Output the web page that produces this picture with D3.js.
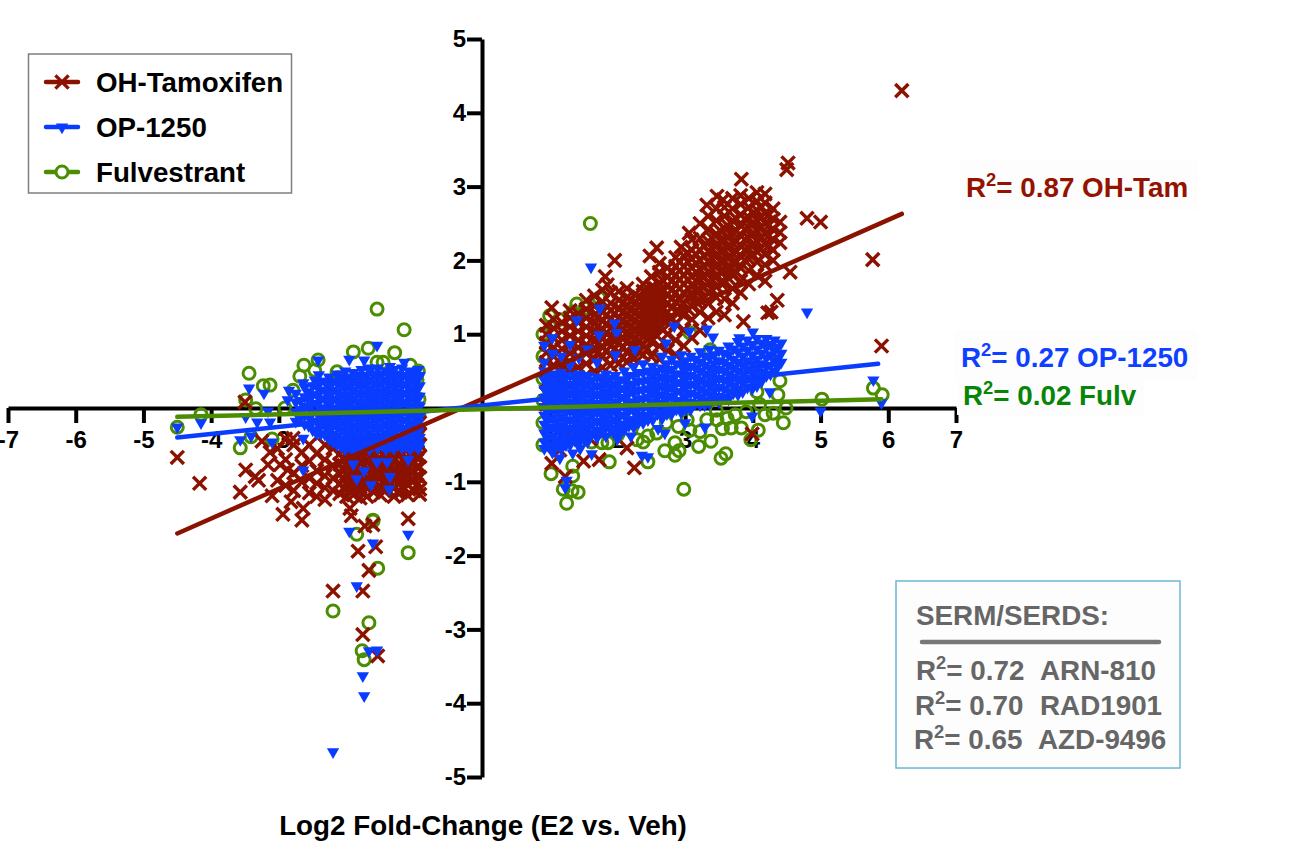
<!DOCTYPE html>
<html>
<head>
<meta charset="utf-8">
<script src="https://cdn.jsdelivr.net/npm/d3@7"></script>
<style>
    html, body { margin: 0; padding: 0; background: #fff; overflow: hidden; }
    svg { display: block; font-family: "Liberation Sans", Arial, sans-serif; font-weight: bold; }
    .axis path, .axis line { stroke: #000; stroke-width: 4px; }
    .axis text { font-size: 24px; font-weight: bold; fill: #000; font-family: "Liberation Sans", Arial, sans-serif; }
</style>
</head>
<body>
<div id="chart"></div>
<script>
// values, columns are [log2 FC E2, [log2 FC drug, ...]]
const tamoxifenLeft = [
    [-3.02, [-0.55, -0.98]], [-2.9, [-0.42, -0.7, -1.05]], [-2.78, [-0.5, -0.88, -1.12]],
    [-2.66, [-0.6, -0.78, -1.0]], [-2.55, [-0.5, -0.72, -0.95, -1.15]], [-2.44, [-0.62, -0.85, -1.02, -1.2]],
    [-2.32, [-0.5, -0.7, -0.92, -1.08, -1.24]], [-2.2, [-0.55, -0.78, -0.95, -1.12]],
    [-2.1, [-0.48, -0.62, -0.76, -0.9, -1.02, -1.16]], [-2.04, [-0.56, -0.7, -0.84, -0.97, -1.1]],
    [-2.0, [-0.5, -0.64, -0.78, -0.9, -1.04, -1.2]], [-1.95, [-0.57, -0.72, -0.85, -0.98, -1.12]],
    [-1.9, [-0.46, -0.58, -0.7, -0.82, -0.94, -1.08, -1.18]], [-1.85, [-0.52, -0.65, -0.78, -0.9, -1.02]],
    [-1.8, [-0.5, -0.62, -0.74, -0.86, -0.98, -1.12, -1.22]], [-1.75, [-0.56, -0.68, -0.8, -0.92, -1.04, -1.15]],
    [-1.7, [-0.46, -0.58, -0.7, -0.84, -0.96, -1.08, -1.2]], [-1.65, [-0.54, -0.66, -0.78, -0.9, -1.02]],
    [-1.6, [-0.5, -0.62, -0.76, -0.88, -1.0, -1.14]], [-1.55, [-0.56, -0.7, -0.82, -0.94, -1.08]],
    [-1.5, [-0.44, -0.56, -0.68, -0.8, -0.92, -1.06, -1.18]], [-1.45, [-0.52, -0.64, -0.76, -0.88, -1.0, -1.12]],
    [-1.4, [-0.5, -0.62, -0.74, -0.86, -0.98, -1.1]], [-1.35, [-0.56, -0.68, -0.8, -0.92, -1.04]],
    [-1.3, [-0.46, -0.58, -0.7, -0.84, -0.96, -1.08, -1.2]], [-1.25, [-0.52, -0.64, -0.78, -0.9, -1.02, -1.14]],
    [-1.2, [-0.5, -0.62, -0.76, -0.88, -1.0, -1.14]], [-1.15, [-0.56, -0.7, -0.82, -0.94, -1.08]],
    [-1.1, [-0.44, -0.56, -0.68, -0.8, -0.92, -1.04, -1.18]], [-1.05, [-0.5, -0.62, -0.74, -0.86, -0.98]],
    [-1.0, [-0.5, -0.62, -0.74, -0.86, -0.98, -1.12]], [-0.96, [-0.56, -0.68, -0.8, -0.92, -1.04]],
    [-0.92, [-0.2, -0.36, -0.5, -0.66, -0.8, -0.94, -1.1, -1.17]]
];
const tamoxifenRight = [
    [0.95, [0.05, 0.2, 0.35, 0.5, 0.62, 0.75, 0.88, 1.0, 1.12]],
    [1.06, [0.15, 0.3, 0.45, 0.58, 0.7, 0.82, 0.95, 1.08, 1.2]],
    [1.18, [0.25, 0.4, 0.55, 0.68, 0.8, 0.92, 1.04, 1.16]],
    [1.3, [0.3, 0.48, 0.62, 0.74, 0.86, 0.98, 1.1, 1.22, 1.32]],
    [1.42, [0.4, 0.55, 0.7, 0.82, 0.92, 1.04, 1.16, 1.28]],
    [1.54, [0.45, 0.6, 0.74, 0.86, 0.98, 1.1, 1.22, 1.34, 1.46]],
    [1.66, [0.5, 0.66, 0.78, 0.9, 1.02, 1.14, 1.26, 1.38, 1.52]],
    [1.78, [0.55, 0.7, 0.82, 0.94, 1.06, 1.18, 1.3, 1.44, 1.6]],
    [1.9, [0.58, 0.72, 0.84, 0.96, 1.08, 1.2, 1.32, 1.42, 1.56]],
    [2.02, [0.6, 0.74, 0.88, 1.0, 1.1, 1.22, 1.34, 1.46, 1.58]],
    [2.14, [0.62, 0.76, 0.9, 1.02, 1.14, 1.26, 1.38, 1.5, 1.62]],
    [2.26, [0.68, 0.82, 0.94, 1.06, 1.18, 1.3, 1.42, 1.54]],
    [2.38, [0.72, 0.86, 0.98, 1.1, 1.22, 1.34, 1.46, 1.58, 1.68]],
    [2.5, [0.7, 0.9, 1.04, 1.16, 1.28, 1.4, 1.52, 1.64, 1.78]],
    [2.62, [0.66, 0.84, 1.1, 1.22, 1.34, 1.46, 1.58, 1.7, 1.84, 1.96]],
    [2.74, [0.78, 1.0, 1.18, 1.3, 1.42, 1.54, 1.66, 1.78, 1.9]],
    [2.86, [0.72, 0.92, 1.14, 1.3, 1.44, 1.56, 1.68, 1.8, 1.92, 2.04]],
    [2.98, [0.84, 1.06, 1.26, 1.42, 1.56, 1.68, 1.8, 1.92, 2.06]],
    [3.1, [0.95, 1.2, 1.38, 1.52, 1.66, 1.78, 1.9, 2.02, 2.14, 2.28]],
    [3.22, [1.05, 1.3, 1.46, 1.6, 1.74, 1.88, 2.0, 2.14, 2.3, 2.5]],
    [3.34, [1.22, 1.42, 1.56, 1.7, 1.84, 1.98, 2.12, 2.26, 2.42, 2.6]],
    [3.46, [1.3, 1.5, 1.64, 1.78, 1.92, 2.06, 2.2, 2.36, 2.54, 2.7]],
    [3.58, [1.26, 1.48, 1.7, 1.86, 2.0, 2.14, 2.28, 2.44, 2.6, 2.72]],
    [3.7, [1.42, 1.62, 1.8, 1.96, 2.1, 2.24, 2.38, 2.54, 2.7, 2.84]],
    [3.82, [1.56, 1.72, 1.9, 2.06, 2.2, 2.34, 2.48, 2.62, 2.76, 2.88]],
    [3.94, [1.68, 1.86, 2.02, 2.16, 2.3, 2.44, 2.58, 2.72, 2.84]],
    [4.06, [1.8, 1.98, 2.12, 2.26, 2.4, 2.54, 2.68, 2.8, 2.92]],
    [4.18, [1.72, 1.94, 2.08, 2.22, 2.36, 2.5, 2.64, 2.78, 2.9]],
    [4.3, [2.0, 2.14, 2.28, 2.42, 2.56, 2.7]],
    [4.4, [2.24, 2.38, 2.52]]
];
// the thick middle of the upper right cloud
const tamoxifenRightDense = [
    [1.72, [0.76, 0.88, 1.0, 1.12, 1.24]], [1.84, [0.78, 0.9, 1.02, 1.14, 1.26]],
    [1.96, [0.66, 0.8, 0.94, 1.06, 1.16, 1.28]], [2.08, [0.68, 0.82, 0.94, 1.06, 1.18, 1.3, 1.42]],
    [2.2, [0.7, 0.84, 0.98, 1.1, 1.22, 1.34, 1.46]], [2.32, [0.76, 0.9, 1.02, 1.14, 1.26, 1.38, 1.5]],
    [2.44, [0.8, 0.94, 1.08, 1.2, 1.32, 1.44, 1.56]], [2.56, [1.0, 1.14, 1.26, 1.38, 1.5, 1.62]],
    [2.68, [1.06, 1.2, 1.34, 1.46, 1.58, 1.72]], [2.8, [1.22, 1.36, 1.48, 1.6, 1.72, 1.84]],
    [2.92, [1.3, 1.46, 1.62, 1.74, 1.86, 1.98]], [3.04, [1.34, 1.5, 1.62, 1.74, 1.86, 1.98, 2.1]],
    [3.16, [1.44, 1.58, 1.72, 1.84, 1.96, 2.08]], [3.28, [1.5, 1.64, 1.78, 1.92, 2.06, 2.2]],
    [3.4, [1.6, 1.74, 1.88, 2.02, 2.16, 2.3]], [3.52, [1.7, 1.84, 1.98, 2.12, 2.26, 2.4]],
    [3.64, [1.76, 1.9, 2.04, 2.18, 2.32, 2.46]], [3.76, [1.84, 1.98, 2.12, 2.26, 2.4, 2.56]],
    [3.88, [2.0, 2.14, 2.28, 2.42, 2.56]], [4.0, [2.08, 2.22, 2.36, 2.5, 2.64]],
    [4.12, [2.16, 2.3, 2.44, 2.58, 2.72]], [4.24, [2.2, 2.34, 2.48, 2.62]]
];
const tamoxifenOutliers = [
    [-4.5, -0.67], [-4.17, -1.02], [-3.57, -1.14], [-3.49, -0.84], [-3.35, -0.93], [-3.3, -0.98], [-3.5, 0.08], [-3.25, -0.45],
    [-3.13, -0.6], [-3.16, -0.77], [-2.98, -0.77], [-2.87, -0.84], [-3.1, -1.19], [-2.82, -1.27], [-2.94, -1.44],
    [-2.64, -1.36], [-2.66, -1.52], [-2.79, -0.41], [-1.95, -1.36], [-1.93, -1.46], [-1.73, -1.6], [-1.61, -1.58],
    [-1.83, -1.94], [-1.57, -1.88], [-1.67, -2.2], [-1.76, -2.48], [-2.2, -2.48], [-1.76, -3.07], [-1.54, -3.36], [-1.09, -1.5],
    [4.52, 3.32], [4.5, 3.23], [3.83, 3.1], [3.47, 2.87], [3.32, 2.75], [3.56, 2.82], [4.8, 2.57], [5.0, 2.52],
    [4.55, 1.84], [4.36, 1.46], [4.22, 1.29], [4.27, 1.3], [3.86, 1.17], [1.96, 2.0], [2.58, 2.17], [2.48, 2.06],
    [3.06, 2.37], [2.94, 2.18], [1.82, 1.78], [1.85, 1.67], [1.03, 1.36], [5.77, 2.01], [5.9, 0.84], [6.2, 4.3],
    [1.03, -0.75], [1.15, -0.57], [1.23, -0.93], [1.5, -0.72], [1.73, -0.7], [2.14, -0.54], [2.25, -0.81], [3.99, -0.35],
    [1.08, -0.45], [1.35, -0.4], [1.6, -0.42]
];
const opLeft = [
    [-2.75, [0.2, 0.08, -0.05, -0.18]], [-2.62, [0.28, 0.15, 0.02, -0.1, -0.22]],
    [-2.5, [0.3, 0.18, 0.06, -0.06, -0.18, -0.3]], [-2.38, [0.36, 0.24, 0.12, 0.0, -0.12, -0.24, -0.35]],
    [-2.26, [0.42, 0.3, 0.18, 0.06, -0.06, -0.18, -0.3, -0.42]],
    [-2.14, [0.46, 0.34, 0.22, 0.1, -0.02, -0.14, -0.26, -0.38, -0.5]],
    [-2.02, [0.5, 0.38, 0.26, 0.14, 0.02, -0.1, -0.22, -0.34, -0.46, -0.56]],
    [-1.9, [0.48, 0.36, 0.24, 0.12, 0.0, -0.12, -0.24, -0.36, -0.48, -0.58]],
    [-1.78, [0.52, 0.4, 0.28, 0.16, 0.04, -0.08, -0.2, -0.32, -0.44, -0.54]],
    [-1.66, [0.5, 0.38, 0.26, 0.14, 0.02, -0.1, -0.22, -0.34, -0.46, -0.56]],
    [-1.54, [0.54, 0.42, 0.3, 0.18, 0.06, -0.06, -0.18, -0.3, -0.42, -0.54]],
    [-1.42, [0.5, 0.38, 0.26, 0.14, 0.02, -0.1, -0.22, -0.34, -0.46, -0.56]],
    [-1.3, [0.52, 0.4, 0.28, 0.16, 0.04, -0.08, -0.2, -0.32, -0.44, -0.55]],
    [-1.18, [0.54, 0.42, 0.3, 0.18, 0.06, -0.06, -0.18, -0.3, -0.42, -0.54]],
    [-1.06, [0.5, 0.38, 0.26, 0.14, 0.02, -0.1, -0.22, -0.34, -0.46, -0.56]],
    [-0.94, [0.52, 0.4, 0.28, 0.16, 0.04, -0.08, -0.2, -0.32, -0.44, -0.55]]
];
// second pass over the solid blue part left, between the first columns
const opLeftDense = [
    [-2.68, [0.1, -0.02, -0.14]], [-2.56, [0.22, 0.1, 0.0, -0.12, -0.24]],
    [-2.44, [0.3, 0.18, 0.06, -0.06, -0.18, -0.3]], [-2.32, [0.36, 0.24, 0.12, 0.0, -0.12, -0.24, -0.36]],
    [-2.2, [0.36, 0.24, 0.12, 0.0, -0.12, -0.24, -0.36, -0.46]],
    [-2.08, [0.42, 0.3, 0.18, 0.06, -0.06, -0.18, -0.3, -0.42, -0.52]],
    [-1.96, [0.42, 0.3, 0.18, 0.06, -0.06, -0.18, -0.3, -0.42, -0.52]],
    [-1.84, [0.44, 0.32, 0.2, 0.08, -0.04, -0.16, -0.28, -0.4, -0.52]],
    [-1.72, [0.44, 0.32, 0.2, 0.08, -0.04, -0.16, -0.28, -0.4, -0.5]],
    [-1.6, [0.46, 0.34, 0.22, 0.1, -0.02, -0.14, -0.26, -0.38, -0.5]],
    [-1.48, [0.46, 0.34, 0.22, 0.1, -0.02, -0.14, -0.26, -0.38, -0.5]],
    [-1.36, [0.44, 0.32, 0.2, 0.08, -0.04, -0.16, -0.28, -0.4, -0.52]],
    [-1.24, [0.46, 0.34, 0.22, 0.1, -0.02, -0.14, -0.26, -0.38, -0.5]],
    [-1.12, [0.44, 0.32, 0.2, 0.08, -0.04, -0.16, -0.28, -0.4, -0.52]],
    [-1.0, [0.46, 0.34, 0.22, 0.1, -0.02, -0.14, -0.26, -0.38, -0.5]],
    [-0.92, [0.44, 0.3, 0.16, 0.02, -0.12, -0.26, -0.4, -0.5]]
];
const opRight = [
    [0.92, [0.85, 0.62, 0.5, 0.38, 0.26, 0.14, 0.02, -0.1, -0.22, -0.34, -0.46, -0.55]],
    [1.04, [0.95, 0.74, 0.46, 0.34, 0.22, 0.1, -0.02, -0.14, -0.26, -0.38, -0.5, -0.6]],
    [1.17, [0.7, 0.48, 0.36, 0.24, 0.12, 0.0, -0.12, -0.24, -0.36, -0.48, -0.56]],
    [1.3, [0.86, 0.58, 0.44, 0.32, 0.2, 0.08, -0.04, -0.16, -0.28, -0.4, -0.5]],
    [1.43, [0.68, 0.46, 0.34, 0.22, 0.1, -0.02, -0.14, -0.26, -0.38, -0.48]],
    [1.56, [0.8, 0.44, 0.32, 0.2, 0.08, -0.04, -0.16, -0.28, -0.4, -0.46]],
    [1.7, [0.62, 0.42, 0.3, 0.18, 0.06, -0.06, -0.18, -0.3, -0.4]],
    [1.83, [0.46, 0.34, 0.22, 0.1, -0.02, -0.14, -0.26, -0.38]],
    [1.97, [0.72, 0.44, 0.32, 0.2, 0.08, -0.04, -0.16, -0.28, -0.36]],
    [2.1, [0.5, 0.38, 0.26, 0.14, 0.02, -0.1, -0.22, -0.3]],
    [2.24, [0.56, 0.44, 0.32, 0.2, 0.08, -0.04, -0.16, -0.26]],
    [2.38, [0.6, 0.48, 0.36, 0.24, 0.12, 0.0, -0.12, -0.2]],
    [2.52, [0.56, 0.44, 0.32, 0.2, 0.08, -0.04, -0.16]],
    [2.66, [0.7, 0.54, 0.42, 0.3, 0.18, 0.06, -0.06, -0.14]],
    [2.8, [0.66, 0.52, 0.4, 0.28, 0.16, 0.04, -0.08]],
    [2.94, [0.72, 0.58, 0.46, 0.34, 0.22, 0.1, -0.02, -0.06]],
    [3.08, [0.7, 0.56, 0.44, 0.32, 0.2, 0.08, -0.02]],
    [3.22, [0.76, 0.62, 0.5, 0.38, 0.26, 0.14, 0.04]],
    [3.36, [0.8, 0.68, 0.54, 0.42, 0.3, 0.18, 0.06]],
    [3.5, [0.78, 0.64, 0.52, 0.4, 0.28, 0.16, 0.08]],
    [3.64, [0.84, 0.72, 0.58, 0.46, 0.34, 0.22, 0.12]],
    [3.78, [0.9, 0.76, 0.62, 0.5, 0.38, 0.26, 0.18]],
    [3.92, [0.92, 0.78, 0.64, 0.52, 0.4, 0.28]],
    [4.06, [0.94, 0.8, 0.66, 0.54, 0.42, 0.3]],
    [4.2, [0.94, 0.82, 0.68, 0.56, 0.44]],
    [4.32, [0.92, 0.78, 0.64, 0.5]],
    [4.42, [0.88, 0.74, 0.62]]
];
// second pass over the solid blue part right
const opRightDense = [
    [0.98, [0.44, 0.32, 0.2, 0.08, -0.04, -0.16, -0.28, -0.4, -0.52]],
    [1.1, [0.42, 0.3, 0.18, 0.06, -0.06, -0.18, -0.3, -0.42, -0.52]],
    [1.24, [0.42, 0.3, 0.18, 0.06, -0.06, -0.18, -0.3, -0.42, -0.5]],
    [1.37, [0.4, 0.28, 0.16, 0.04, -0.08, -0.2, -0.32, -0.44]],
    [1.5, [0.4, 0.28, 0.16, 0.04, -0.08, -0.2, -0.32, -0.42]],
    [1.63, [0.38, 0.26, 0.14, 0.02, -0.1, -0.22, -0.34]],
    [1.76, [0.4, 0.28, 0.16, 0.04, -0.08, -0.2, -0.32]],
    [1.9, [0.4, 0.28, 0.16, 0.04, -0.08, -0.2, -0.3]],
    [2.04, [0.38, 0.26, 0.14, 0.02, -0.1, -0.22, -0.32]],
    [2.17, [0.44, 0.32, 0.2, 0.08, -0.04, -0.16, -0.24]],
    [2.31, [0.48, 0.36, 0.24, 0.12, 0.0, -0.1, -0.2]],
    [2.45, [0.5, 0.38, 0.26, 0.14, 0.02, -0.1, -0.16]],
    [2.59, [0.5, 0.38, 0.26, 0.14, 0.02, -0.08]],
    [2.73, [0.6, 0.48, 0.36, 0.24, 0.12, 0.0, -0.08]],
    [2.87, [0.6, 0.46, 0.34, 0.22, 0.1, -0.02]],
    [3.01, [0.64, 0.52, 0.4, 0.28, 0.16, 0.04, -0.02]],
    [3.15, [0.66, 0.54, 0.42, 0.3, 0.18, 0.06]],
    [3.29, [0.7, 0.58, 0.46, 0.34, 0.22, 0.1, 0.04]],
    [3.43, [0.72, 0.6, 0.48, 0.36, 0.24, 0.12]],
    [3.57, [0.74, 0.62, 0.5, 0.38, 0.26, 0.14]],
    [3.71, [0.8, 0.66, 0.54, 0.42, 0.3, 0.2]],
    [3.85, [0.84, 0.7, 0.58, 0.46, 0.34, 0.22]],
    [3.99, [0.86, 0.72, 0.6, 0.48, 0.36, 0.26]],
    [4.13, [0.88, 0.74, 0.6, 0.48, 0.36]],
    [4.26, [0.86, 0.72, 0.58, 0.46]],
    [4.37, [0.82, 0.68, 0.56]]
];
const opOutliers = [
    [-4.5, -0.26], [-4.15, -0.2], [-3.44, 0.27], [-3.22, 0.2], [-3.49, -0.12], [-3.32, -0.19], [-3.13, -0.19], [-3.16, -0.04],
    [-3.57, -0.43], [-3.41, -0.38], [-3.1, -0.46], [-2.85, 0.24], [-2.87, 0.11], [-2.64, 0.34], [-2.42, 0.65], [-2.41, 0.45],
    [-2.47, 0.38], [-1.96, 0.66], [-1.74, 0.65], [-1.55, 0.85], [-1.15, 0.62], [-1.68, 0.54], [-1.06, 0.47], [-1.36, 0.56],
    [-2.64, -0.41], [-2.44, -0.35], [-2.64, -0.84], [-1.9, -0.76], [-1.85, -0.96], [-1.74, -0.85], [-1.64, -1.04],
    [-1.55, -0.73], [-1.4, -0.73], [-1.36, -0.93], [-1.37, -1.1], [-1.09, -0.7],
    [-1.96, -1.67], [-1.61, -1.83], [-1.09, -1.71], [-1.85, -2.41], [-1.67, -3.29], [-1.55, -3.28], [-1.76, -3.63], [-1.74, -3.9], [-2.2, -4.66],
    [1.61, 1.91], [4.8, 1.3], [1.74, 1.35], [1.4, 1.19], [1.96, 1.15], [1.99, 1.02], [2.84, 1.11], [3.06, 1.04], [3.32, 1.07],
    [3.41, 0.96], [3.8, 0.95], [4.0, 1.03], [1.73, 0.99], [2.26, 0.79], [2.72, 0.88], [5.0, -0.04], [5.78, 0.38], [5.9, 0.07],
    [1.23, -1.08], [1.25, -0.98], [1.03, -0.53], [1.34, -0.61], [1.62, -0.62], [2.36, -0.64], [2.45, -0.66], [2.7, -0.34],
    [3.29, -0.26], [3.99, -0.11], [4.25, 0.22], [1.15, -0.68], [1.45, -0.55], [2.0, -0.42], [2.2, -0.38], [2.6, -0.28], [3.0, -0.2]
];
const fulvestrantPoints = [
    [-1.55, 1.34], [-1.15, 1.06], [-4.5, -0.26], [-4.15, -0.09], [-3.49, 0.11], [-3.44, 0.47], [-3.23, 0.3], [-3.13, 0.31],
    [-3.34, -0.01], [-3.57, -0.54], [-3.41, -0.39], [-3.1, -0.42], [-2.63, 0.58], [-2.69, 0.43], [-2.42, 0.65], [-2.14, 0.49],
    [-2.13, 0.41], [-1.9, 0.76], [-1.68, 0.81], [-1.29, 0.75], [-1.46, 0.62], [-1.06, 0.58], [-0.96, 0.38], [-1.55, 0.62],
    [-2.91, 0.0], [-2.79, 0.24], [-2.47, 0.51], [-0.95, -0.3], [-0.93, 0.12], [-0.93, -0.1], [-0.94, 0.5],
    [-1.46, -0.98], [-1.4, -1.07], [-1.61, -1.52],
    [-1.61, -1.53], [-1.85, -1.71], [-1.09, -1.96], [-1.54, -2.17], [-2.2, -2.75], [-1.67, -2.91], [-1.77, -3.29], [-1.74, -3.41],
    [1.02, -0.89], [1.34, -0.92], [1.2, -1.1], [1.33, -1.12], [1.42, -1.14], [1.25, -1.29], [1.34, -0.79], [1.88, -0.73],
    [2.45, -0.73], [2.98, -1.1], [3.53, -0.68], [3.6, -0.62], [2.7, -0.58], [2.85, -0.64], [2.91, -0.58], [2.85, -0.47],
    [3.2, -0.52], [3.38, -0.45], [2.38, -0.46], [2.58, -0.34], [2.45, -0.38], [3.07, -0.3], [3.22, -0.32], [3.47, -0.16],
    [3.68, -0.27], [3.83, -0.27], [3.97, -0.43], [4.08, -0.3], [4.45, -0.2], [3.74, -0.09], [3.62, -0.14], [4.3, -0.07],
    [4.18, -0.09], [4.49, 0.0], [4.37, 0.18], [4.06, 0.22], [4.4, 0.37], [3.46, -0.03], [5.02, 0.12], [5.78, 0.27], [5.91, 0.18],
    [1.77, -0.47], [1.62, -0.46], [1.86, -0.47], [3.03, -0.16], [3.32, -0.16], [2.0, -0.37], [2.29, -0.43], [2.72, -0.2],
    [3.9, -0.05], [4.1, 0.05], [2.2, -0.3], [2.9, -0.25], [3.55, -0.28],
    [1.6, 2.5], [1.4, 1.41], [1.0, 1.25], [1.14, 1.2], [1.73, 1.49], [1.52, 1.35], [1.34, 1.3], [3.07, 1.02], [3.37, 0.79],
    [0.9, 1.0], [0.9, 0.7], [0.9, 0.4], [0.9, 0.1], [0.9, -0.2], [0.9, -0.5]
];
// regression lines, two ends each
const tamoxifenFit = [[-4.5, -1.7], [6.2, 2.63]];
const opFit = [[-4.5, -0.4], [5.85, 0.6]];
const fulvestrantFit = [[-4.5, -0.12], [5.9, 0.12]];

const xTicks = [-7, -6, -5, -4, -3, -2, -1, 1, 2, 3, 4, 5, 6, 7];
const yTicks = [-5, -4, -3, -2, -1, 1, 2, 3, 4, 5];
const legendNames = ['OH-Tamoxifen', 'OP-1250', 'Fulvestrant'];
const serdRows = [['0.72', 'ARN-810'], ['0.70', 'RAD1901'], ['0.65', 'AZD-9496']];

const red = '#8c1200', blue = '#0a3cff', green = '#4b8d00', grey = '#666666';

function expand(columns) {
    return columns.flatMap((col) => col[1].map((y) => [col[0], y]));
}

const width = 1292, height = 846;
const svg = d3.select('#chart').append('svg').attr('width', width).attr('height', height);

const scaleX = d3.scaleLinear().domain([-7, 7]).range([8, 956]);
const scaleY = d3.scaleLinear().domain([-5, 5]).range([777, 39]);

// axes go under the points, the tick labels get covered by them
const xAxis = d3.axisBottom(scaleX).tickValues(xTicks).tickSize(15).tickSizeOuter(0).tickPadding(8).tickFormat(String);
const yAxis = d3.axisLeft(scaleY).tickValues(yTicks).tickSize(15).tickSizeOuter(0).tickPadding(1).tickFormat(String);

svg.append('g').attr('class', 'axis').attr('transform', `translate(0,${scaleY(0)})`).call(xAxis);
svg.append('g').attr('class', 'axis').attr('transform', `translate(${scaleX(0)},0)`).call(yAxis);

const timesPath = d3.symbol().type(d3.symbolTimes).size(115)();
const trianglePath = d3.symbol().type(d3.symbolTriangle).size(66)();

function drawCircles(points) {
    svg.append('g').selectAll('circle').data(points).enter().append('circle')
        .attr('cx', (d) => scaleX(d[0]))
        .attr('cy', (d) => scaleY(d[1]))
        .attr('r', 6)
        .attr('fill', 'none')
        .attr('stroke', green)
        .attr('stroke-width', 3);
}

function drawTimes(points) {
    svg.append('g').selectAll('path').data(points).enter().append('path')
        .attr('d', timesPath)
        .attr('transform', (d) => `translate(${scaleX(d[0])},${scaleY(d[1])})`)
        .attr('fill', 'none')
        .attr('stroke', red)
        .attr('stroke-width', 3.4);
}

function drawTriangles(points) {
    svg.append('g').selectAll('path').data(points).enter().append('path')
        .attr('d', trianglePath)
        .attr('transform', (d) => `translate(${scaleX(d[0])},${scaleY(d[1])}) rotate(180)`)
        .attr('fill', blue);
}

drawCircles(fulvestrantPoints);
drawTimes(expand(tamoxifenLeft).concat(expand(tamoxifenRight), expand(tamoxifenRightDense), tamoxifenOutliers));
drawTriangles(expand(opLeft).concat(expand(opLeftDense), expand(opRight), expand(opRightDense), opOutliers));

const fitLine = d3.line().x((d) => scaleX(d[0])).y((d) => scaleY(d[1]));
[[tamoxifenFit, red], [opFit, blue], [fulvestrantFit, green]].forEach((fit) => {
    svg.append('path')
        .attr('d', fitLine(fit[0]))
        .attr('fill', 'none')
        .attr('stroke', fit[1])
        .attr('stroke-width', 4.5)
        .attr('stroke-linecap', 'round');
});

// x axis title
svg.append('text')
    .attr('x', 483).attr('y', 835)
    .attr('text-anchor', 'middle')
    .attr('font-size', 27.8)
    .attr('fill', '#000')
    .text('Log2 Fold-Change (E2 vs. Veh)');

// legend
svg.append('rect')
    .attr('x', 28.5).attr('y', 54).attr('width', 263).attr('height', 139)
    .attr('fill', '#fff').attr('stroke', '#7f7f7f').attr('stroke-width', 1.5);

const legendColors = [red, blue, green];
const legendY = d3.scalePoint().domain(legendNames).range([82, 172]);
const legend = svg.append('g').selectAll('g').data(legendNames).enter().append('g')
    .attr('transform', (d) => `translate(0,${legendY(d)})`);

legend.append('line')
    .attr('x1', 46).attr('x2', 78)
    .attr('stroke', (d, i) => legendColors[i])
    .attr('stroke-width', 4.5)
    .attr('stroke-linecap', 'round');

legend.append('text')
    .attr('x', 96).attr('y', 10)
    .attr('font-size', 27.7)
    .attr('fill', '#000')
    .text((d) => d);

legend.filter((d, i) => i === 0).append('path').attr('d', timesPath)
    .attr('transform', 'translate(62,0)').attr('fill', 'none').attr('stroke', red).attr('stroke-width', 3.4);
legend.filter((d, i) => i === 1).append('path').attr('d', trianglePath)
    .attr('transform', 'translate(62,0) rotate(180)').attr('fill', blue);
legend.filter((d, i) => i === 2).append('circle').attr('cx', 62).attr('r', 6)
    .attr('fill', '#fff').attr('stroke', green).attr('stroke-width', 3);

// "R2= value name" labels, the 2 is raised
function rSquared(parent, x, y, size, color, rest) {
    const label = parent.append('text')
        .attr('x', x).attr('y', y)
        .attr('font-size', size)
        .attr('fill', color);
    label.append('tspan').text('R');
    label.append('tspan').attr('dy', -size * 0.38).attr('font-size', size * 0.66).text('2');
    label.append('tspan').attr('dy', size * 0.38).text(rest);
    return label;
}

svg.append('rect').attr('x', 960).attr('y', 160).attr('width', 237).attr('height', 50).attr('fill', '#fdfdfe');
svg.append('rect').attr('x', 955).attr('y', 330).attr('width', 242).attr('height', 50).attr('fill', '#fdfdfe');
svg.append('rect').attr('x', 957).attr('y', 380).attr('width', 187).attr('height', 35).attr('fill', '#fdfdfe');

rSquared(svg, 966, 197, 27.8, '#931300', '= 0.87 OH-Tam');
rSquared(svg, 961, 367, 27.8, '#0f40ff', '= 0.27 OP-1250');
rSquared(svg, 963, 405, 27.8, '#078507', '= 0.02 Fulv');

// SERM/SERD box
svg.append('rect')
    .attr('x', 896).attr('y', 581).attr('width', 284).attr('height', 187)
    .attr('fill', '#fdfdfd').attr('stroke', '#6fb7d3').attr('stroke-width', 1.5);

svg.append('text')
    .attr('x', 916).attr('y', 625)
    .attr('font-size', 27.8)
    .attr('fill', grey)
    .text('SERM/SERDS:');

svg.append('line')
    .attr('x1', 922).attr('x2', 1159).attr('y1', 642).attr('y2', 642)
    .attr('stroke', '#777777').attr('stroke-width', 4.5).attr('stroke-linecap', 'round');

const rowX = [916, 915, 914];
const nameX = [1040, 1040, 1038];
const rowY = [680, 715, 749];
serdRows.forEach((row, i) => {
    rSquared(svg, rowX[i], rowY[i], 27.8, grey, `= ${row[0]}`);
    svg.append('text')
        .attr('x', nameX[i]).attr('y', rowY[i])
        .attr('font-size', 27.8)
        .attr('fill', grey)
        .text(row[1]);
});
</script>
</body>
</html>
